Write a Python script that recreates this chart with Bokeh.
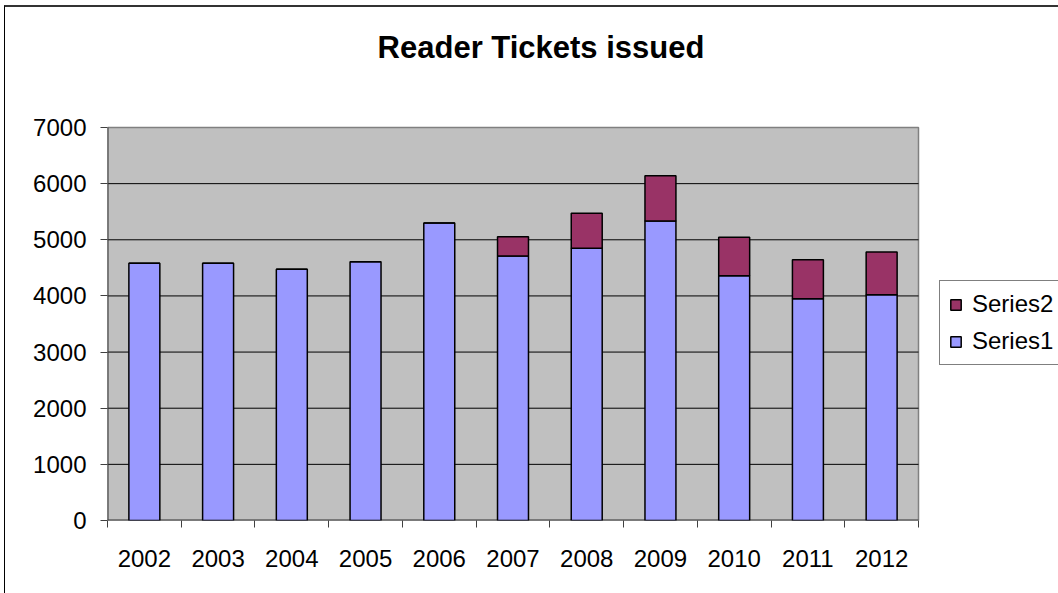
from bokeh.plotting import figure
from bokeh.models import (Range1d, FixedTicker, Legend, LegendItem, ColumnDataSource,
                          InlineStyleSheet, Label)
from bokeh.embed import file_html
from bokeh.resources import INLINE

title_text = "Reader Tickets issued"
years = ["2002", "2003", "2004", "2005", "2006", "2007", "2008", "2009", "2010", "2011", "2012"]
series1 = [4580, 4580, 4475, 4610, 5300, 4710, 4850, 5335, 4360, 3950, 4020]
series2 = [0, 0, 0, 0, 0, 345, 623, 805, 685, 695, 762]
y_ticks = [0, 1000, 2000, 3000, 4000, 5000, 6000, 7000]

FONT = "Liberation Sans"
W, H = 1058, 593
LEFT, PLOT_RIGHT, TOP, BOTTOM = 107, 918, 127, 520

n = len(years)
xs = [i + 0.5 for i in range(n)]
tops = [a + b for a, b in zip(series1, series2)]
src = ColumnDataSource(dict(x=xs, s1=series1, s2=series2, top=tops, zero=[0] * n))

# the frame extends to the right and top edges so that the legend and title
# (outside the grey plot area) are not clipped; the grey area is drawn as a quad
x_end = n * (W - LEFT) / (PLOT_RIGHT - LEFT)
y_end = y_ticks[-1] * BOTTOM / (BOTTOM - TOP)
p = figure(width=W, height=H, output_backend="svg", toolbar_location=None,
           x_range=Range1d(0, x_end), y_range=Range1d(0, y_end),
           min_border_left=LEFT, min_border_right=0, min_border_top=0,
           min_border_bottom=H - BOTTOM)

p.background_fill_color = "white"
p.border_fill_color = "white"
p.outline_line_color = None

# grey plot area
p.quad(left=[0], right=[n], bottom=[0], top=[y_ticks[-1]],
       fill_color="#C0C0C0", line_color="#808080", line_width=1.5)
# horizontal gridlines
grid_y = y_ticks[1:-1]
p.segment(x0=[0] * len(grid_y), x1=[n] * len(grid_y), y0=grid_y, y1=grid_y,
          line_color="black", line_width=1)
# axis lines
p.segment(x0=[0], x1=[n], y0=[0], y1=[0], line_color="#404040", line_width=2)
p.segment(x0=[0], x1=[0], y0=[0], y1=[y_ticks[-1]], line_color="#404040", line_width=2)

r1 = p.vbar(x="x", bottom="zero", top="s1", width=0.42, source=src,
            fill_color="#9999FF", line_color="black", line_width=1.5)
r2 = p.vbar(x="x", bottom="s1", top="top", width=0.42, source=src,
            fill_color="#993366", line_color="black", line_width=1.5)

# title
p.add_layout(Label(x=540.5 - LEFT, y=BOTTOM - 46.7, x_units="screen", y_units="screen",
                   text=title_text, text_font=FONT, text_font_size="31px",
                   text_font_style="bold", text_color="black",
                   text_align="center", text_baseline="alphabetic"))

# axes
xa = p.xaxis[0]
xa.ticker = FixedTicker(ticks=xs, minor_ticks=list(range(n + 1)))
xa.major_label_overrides = {x: y for x, y in zip(xs, years)}
xa.major_tick_out = 0
xa.major_tick_in = 0
xa.minor_tick_out = 7
xa.minor_tick_in = 0
xa.minor_tick_line_color = "#404040"
xa.axis_line_color = None
xa.major_label_standoff = 22
xa.major_label_text_font = FONT
xa.major_label_text_font_size = "24px"
xa.major_label_text_color = "black"

ya = p.yaxis[0]
ya.ticker = FixedTicker(ticks=y_ticks)
ya.major_tick_out = 7
ya.major_tick_in = 0
ya.minor_tick_out = 0
ya.minor_tick_in = 0
ya.major_tick_line_color = "#404040"
ya.axis_line_color = None
ya.major_label_standoff = 14
ya.major_label_text_font = FONT
ya.major_label_text_font_size = "24px"
ya.major_label_text_color = "black"

p.xgrid.visible = False
p.ygrid.visible = False

legend = Legend(items=[LegendItem(label="Series2", renderers=[r2]),
                       LegendItem(label="Series1", renderers=[r1])],
                location=(832, 155))
legend.label_text_font = FONT
legend.label_text_font_size = "24px"
legend.label_text_color = "black"
legend.glyph_width = 13
legend.glyph_height = 13
legend.label_standoff = 10
legend.padding = 9
legend.spacing = 9
legend.margin = 0
legend.border_line_color = "black"
legend.border_line_width = 1
legend.background_fill_color = "white"
legend.background_fill_alpha = 1
p.add_layout(legend, "center")

# outer chart area border (cropped on right and bottom)
p.stylesheets = [InlineStyleSheet(css="""
:host { position: relative; }
:host::after { content: ""; position: absolute; left: 4px; top: 5px; right: 0; bottom: 0;
  border-left: 1.5px solid #000; border-top: 2px solid #333; pointer-events: none; z-index: 10; }
""")]

open("out.html", "w").write(file_html(p, INLINE))
